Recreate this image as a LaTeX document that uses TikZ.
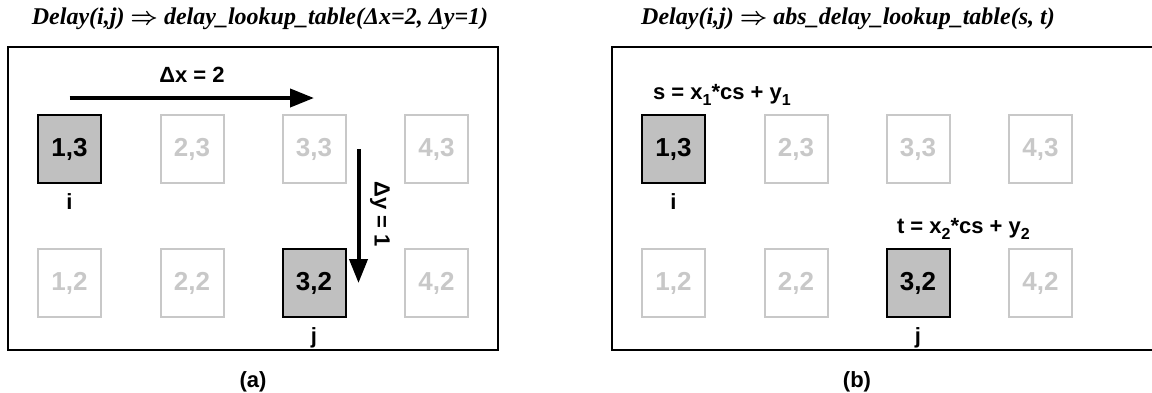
\documentclass[tikz,border=0pt]{standalone}
\usepackage{fontspec}
\setmainfont{Liberation Sans}
\newfontfamily\titlefont{Liberation Serif}
\usetikzlibrary{positioning,arrows.meta}
\definecolor{cellfill}{HTML}{C0C0C0}
\definecolor{faded}{HTML}{C8C8C8}
\newcommand\lowsub[1]{\raisebox{-0.5ex}{\fontsize{8}{9}\selectfont #1}}

\begin{document}
\begin{tikzpicture}[
                x=0.5pt, y=-0.5pt,
                font=\fontsize{11}{13}\selectfont\bfseries,
                cell/.style={
                    draw,
                    minimum width=31.5pt,
                    minimum height=34pt,
                    inner sep=0pt,
                    line width=1pt,
                    font=\fontsize{13}{15}\selectfont\bfseries
                },
                hot/.style={cell, fill=cellfill},
                cold/.style={cell, draw=faded, text=faded},
                tag/.style={inner sep=1pt},
                frame/.style={draw, line width=0.6pt},
                title/.style={font=\titlefont\fontsize{12}{14}\selectfont\bfseries\itshape},
                arrow/.style={-{Triangle[length=12pt, width=9pt]}, line width=2pt}
            ]
                \useasboundingbox (0,0) rectangle (1152,392);

                % (a) relative lookup
                \node[title] (ta) at (260,19) {Delay(i,j) {\boldmath$\Rightarrow$} delay\_lookup\_table(Δx=2, Δy=1)};
                \draw[frame] (8,47) rectangle (498,350);
                \node[hot] (a13) at (69.5,149) {1,3};
                \node[cold] (a23) at (192,149) {2,3};
                \node[cold] (a33) at (314,149) {3,3};
                \node[cold] (a43) at (436.5,149) {4,3};
                \node[cold] (a12) at (69.5,283) {1,2};
                \node[cold] (a22) at (192,283) {2,2};
                \node[hot] (a32) at (314,283) {3,2};
                \node[cold] (a42) at (436.5,283) {4,2};
                \node[tag, below=3.5pt of a13] (ai) {i};
                \node[tag, below=3.5pt of a32] (aj) {j};
                \node (dxl) at (192,75) {Δx = 2};
                \node[rotate=-90] (dyl) at (380,214) {Δy = 1};
                \draw[arrow] ([yshift=8pt]a13.north) -- ([yshift=8pt]a33.north);
                \draw[arrow] ([xshift=6pt]a33.east) -- ([xshift=6pt]a32.east);
                \node (capa) at (253,382) {(a)};

                % (b) absolute lookup
                \node[title] (tb) at (848,19) {Delay(i,j) {\boldmath$\Rightarrow$} abs\_delay\_lookup\_table(s, t)};
                \draw[frame] (1152,350) -| (612,47) -- (1152,47);
                \node[hot] (b13) at (673.5,149) {1,3};
                \node[cold] (b23) at (796,149) {2,3};
                \node[cold] (b33) at (918,149) {3,3};
                \node[cold] (b43) at (1040.5,149) {4,3};
                \node[cold] (b12) at (673.5,283) {1,2};
                \node[cold] (b22) at (796,283) {2,2};
                \node[hot] (b32) at (918,283) {3,2};
                \node[cold] (b42) at (1040.5,283) {4,2};
                \node[tag, below=3.5pt of b13] (bi) {i};
                \node[tag, below=3.5pt of b32] (bj) {j};
                \node[anchor=west] (sl) at (646,95) {s = x\lowsub{1}*cs + y\lowsub{1}};
                \node[anchor=west] (tl) at (890,229) {t = x\lowsub{2}*cs + y\lowsub{2}};
                \node (capb) at (857,382) {(b)};
            \end{tikzpicture}
\end{document}
